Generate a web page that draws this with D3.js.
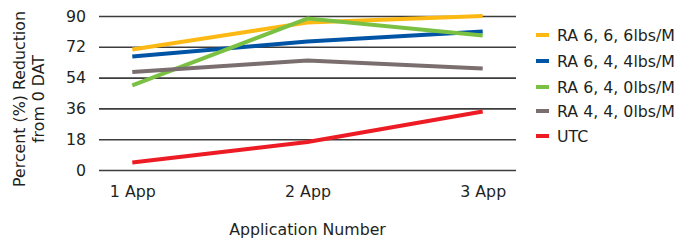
<!DOCTYPE html>
<html lang="en">
<head>
<meta charset="UTF-8">
<title>Percent Reduction</title>
<script src="https://cdn.jsdelivr.net/npm/d3@7"></script>
<style>
  body { margin: 0; background: #fff; }
  text { font-family: "DejaVu Sans", sans-serif; fill: #231f20; }
</style>
</head>
<body>
<div class="chart"></div>
<script>
    const width = 694
    const height = 240
    const margin = { top: 16, right: 178, bottom: 70, left: 99 }
    const fontSize = '15.8px'

    const categories = ['1 App', '2 App', '3 App']
    const yTicks = [0, 18, 36, 54, 72, 90]

    const seriesNames = ['RA 6, 6, 6lbs/M', 'RA 6, 4, 4lbs/M', 'RA 6, 4, 0lbs/M', 'RA 4, 4, 0lbs/M', 'UTC']
    const seriesColors = ['#fdb913', '#0054a6', '#7ac143', '#7a6e6e', '#ed1c24']
    const ra666 = [70.4, 86.2, 90]
    const ra644 = [66.3, 75.1, 81]
    const ra640 = [49.4, 88.5, 78.6]
    const ra440 = [57.3, 64, 59.3]
    const utc = [4.4, 16.4, 34.2]

    const series = [ra666, ra644, ra640, ra440, utc].map((values, i) => ({
        name: seriesNames[i],
        color: seriesColors[i],
        values
    }))

    const x = d3.scalePoint()
        .domain(categories)
        .range([margin.left, width - margin.right])
        .padding(0.19)

    const y = d3.scaleLinear()
        .domain([0, 90])
        .range([height - margin.bottom, margin.top])

    const svg = d3.select('.chart')
        .append('svg')
        .attr('width', width)
        .attr('height', height)

    // gridlines + y labels
    const yAxis = svg.append('g')
        .attr('transform', `translate(${margin.left},0)`)
        .call(d3.axisLeft(y).tickValues(yTicks).tickSize(-(width - margin.left - margin.right)).tickPadding(13))
    yAxis.select('.domain').remove()
    yAxis.selectAll('.tick line').attr('stroke', '#3c3c3c').attr('stroke-width', 1.6)
    yAxis.selectAll('.tick text').attr('font-size', fontSize).attr('fill', '#231f20')

    // x labels
    const xAxis = svg.append('g')
        .attr('transform', `translate(0,${height - margin.bottom})`)
        .call(d3.axisBottom(x).tickSize(0).tickPadding(16))
    xAxis.select('.domain').remove()
    xAxis.selectAll('.tick text').attr('font-size', fontSize).attr('fill', '#231f20')

    const line = d3.line()
        .x((d, i) => x(categories[i]))
        .y(d => y(d))

    svg.append('g').selectAll('path')
        .data(series)
        .join('path')
        .attr('fill', 'none')
        .attr('stroke', d => d.color)
        .attr('stroke-width', 4)
        .attr('d', d => line(d.values))

    // axis titles
    const yTitle = svg.append('text')
        .attr('transform', `translate(25,${y(45) + 6}) rotate(-90)`)
        .attr('text-anchor', 'middle')
        .attr('font-size', fontSize)
    yTitle.append('tspan').attr('x', 0).attr('dy', 0).text('Percent (%) Reduction')
    yTitle.append('tspan').attr('x', 0).attr('dy', 19).text('from 0 DAT')

    svg.append('text')
        .attr('x', x('2 App'))
        .attr('y', 235)
        .attr('text-anchor', 'middle')
        .attr('font-size', fontSize)
        .text('Application Number')

    // legend
    const legendY = [35, 61, 87, 111, 136]
    const legend = svg.append('g').selectAll('g')
        .data(series)
        .join('g')
        .attr('transform', (d, i) => `translate(536,${legendY[i]})`)
    legend.append('line')
        .attr('x1', 0).attr('x2', 13)
        .attr('stroke', d => d.color)
        .attr('stroke-width', 4)
    legend.append('text')
        .attr('x', 21)
        .attr('dy', '0.36em')
        .attr('font-size', fontSize)
        .text(d => d.name)
</script>
</body>
</html>
